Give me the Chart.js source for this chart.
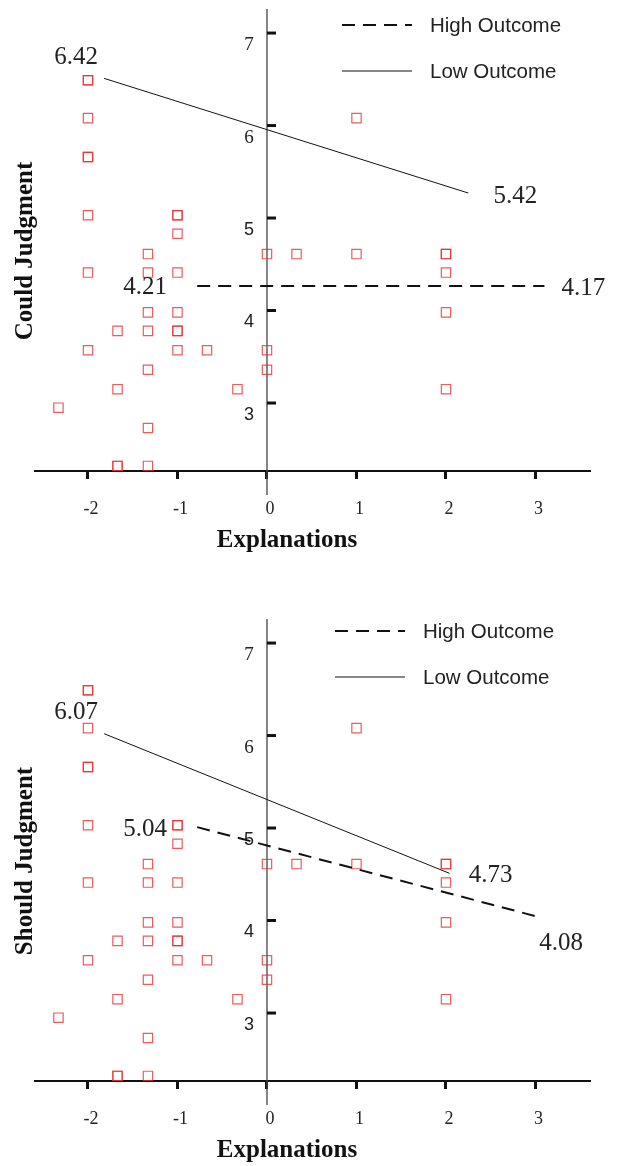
<!DOCTYPE html>
<html>
<head>
<meta charset="utf-8">
<script src="https://cdn.jsdelivr.net/npm/chart.js@4"></script>
<style>
  body { margin: 0; background: #fff; }
  #wrap { position: relative; width: 618px; height: 1166px; }
  #c1 { position: absolute; left: 0; top: 0; }
  #c2 { position: absolute; left: 0; top: 610px; }
</style>
</head>
<body>
<div id="wrap">
  <canvas id="c1" width="618" height="610"></canvas>
  <canvas id="c2" width="618" height="556"></canvas>
</div>
<script>
// scatter of participants (same points shown in both panels)
const explanations = [-2.33, -2, -2, -2, -2, -2, -2, -2, -2,
  -1.67, -1.67, -1.67, -1.67,
  -1.33, -1.33, -1.33, -1.33, -1.33, -1.33, -1.33,
  -1, -1, -1, -1, -1, -1, -1, -1,
  -0.67, -0.33, 0, 0, 0, 0.33, 1, 1, 2, 2, 2, 2, 2];
const judgments = [2.95, 6.49, 6.49, 6.08, 5.66, 5.66, 5.03, 4.41, 3.57,
  3.78, 3.15, 2.32, 2.32,
  4.61, 4.41, 3.98, 3.78, 3.36, 2.73, 2.32,
  5.03, 5.03, 4.83, 4.41, 3.98, 3.78, 3.78, 3.57,
  3.57, 3.15, 4.61, 3.57, 3.36, 4.61, 6.08, 4.61, 4.61, 4.61, 4.41, 3.98, 3.15];

// regression lines (x from, x to / y from, y to)
const couldLowX = [-1.82, 2.25];
const couldLowY = [6.51, 5.27];
const couldHighX = [-0.78, 3.10];
const couldHighY = [4.265, 4.265];
const shouldLowX = [-1.82, 2.04];
const shouldLowY = [6.02, 4.51];
const shouldHighX = [-0.78, 3.03];
const shouldHighY = [5.01, 4.04];

const couldLowLabels = ['6.42', '5.42'];
const couldHighLabels = ['4.21', '4.17'];
const shouldLowLabels = ['6.07', '4.73'];
const shouldHighLabels = ['5.04', '4.08'];

const xTicks = [-2, -1, 0, 1, 2, 3];
const yTicks = [3, 4, 5, 6, 7];
const seriesNames = ['High Outcome', 'Low Outcome'];
const xTitle = 'Explanations';

const X_MIN = -2.592, X_MAX = 3.609;
const Y_MIN = 2.265, Y_MAX = 7.26;
const SERIF = '"Liberation Serif", "Times New Roman", serif';
const SANS = '"Liberation Sans", Arial, sans-serif';

function toPoints(xs, ys) {
    return xs.map((v, i) => ({x: v, y: ys[i]}));
}

const decor = {
    id: 'decor',
    beforeDatasetsDraw(chart) {
        const {ctx, chartArea} = chart;
        const xs = chart.scales.x, ys = chart.scales.y;
        const x0 = xs.getPixelForValue(0);
        ctx.save();
        ctx.strokeStyle = '#444';
        ctx.lineWidth = 1.3;
        ctx.beginPath();
        ctx.moveTo(x0, chartArea.top);
        ctx.lineTo(x0, chartArea.bottom + 24);
        ctx.stroke();
        yTicks.forEach(v => {
            const py = ys.getPixelForValue(v);
            ctx.strokeStyle = '#111';
            ctx.lineWidth = 3;
            ctx.beginPath();
            ctx.moveTo(x0, py);
            ctx.lineTo(x0 + 9, py);
            ctx.stroke();
            // the original mixes two fonts on this axis
            ctx.font = v >= 6 ? '19px ' + SERIF : '18px ' + SANS;
            ctx.fillStyle = '#222';
            ctx.textAlign = 'center';
            ctx.textBaseline = 'middle';
            ctx.fillText(String(v), x0 - 18, py + 12);
        });
        ctx.restore();
    },
    afterDraw(chart) {
        const {ctx, chartArea} = chart;
        const xs = chart.scales.x, ys = chart.scales.y;
        const opt = chart.options.plugins.decor;
        ctx.save();
        // axis titles
        ctx.font = 'bold 25px ' + SERIF;
        ctx.fillStyle = '#111';
        ctx.textAlign = 'center';
        ctx.textBaseline = 'alphabetic';
        ctx.fillText(xTitle, 287, chartArea.bottom + 76);
        ctx.save();
        ctx.translate(32, (chartArea.top + chartArea.bottom) / 2 + 11);
        ctx.rotate(-Math.PI / 2);
        ctx.fillText(opt.yTitle, 0, 0);
        ctx.restore();
        // end-point values
        ctx.font = '25px ' + SERIF;
        ctx.fillStyle = '#222';
        ctx.textAlign = 'center';
        ctx.textBaseline = 'middle';
        chart.data.datasets.forEach(ds => {
            if (!ds.endLabels) return;
            ds.data.forEach((p, i) => {
                const px = xs.getPixelForValue(p.x) + ds.labelOffsets[i][0];
                const py = ys.getPixelForValue(p.y) + ds.labelOffsets[i][1];
                ctx.fillText(ds.endLabels[i], px, py);
            });
        });
        // legend
        ctx.font = '20.5px ' + SANS;
        ctx.textAlign = 'left';
        const lines = chart.data.datasets.filter(ds => ds.endLabels);
        lines.forEach((ds, i) => {
            const ly = opt.y + i * 46;
            ctx.strokeStyle = '#111';
            ctx.lineWidth = ds.borderWidth;
            ctx.setLineDash(ds.borderDash || []);
            ctx.beginPath();
            ctx.moveTo(opt.x, ly);
            ctx.lineTo(opt.x + 70, ly);
            ctx.stroke();
            ctx.setLineDash([]);
            ctx.fillStyle = '#222';
            ctx.fillText(ds.label, opt.x + 88, ly + 1);
        });
        ctx.restore();
    }
};

function makeChart(id, yTitle, lowX, lowY, highX, highY, lowLabels, highLabels, opts) {
    return new Chart(document.getElementById(id), {
        type: 'scatter',
        data: {
            datasets: [
                {
                    type: 'line',
                    label: seriesNames[0],
                    data: toPoints(highX, highY),
                    borderColor: '#111',
                    borderWidth: 2,
                    borderDash: [13, 8],
                    pointRadius: 0,
                    fill: false,
                    endLabels: highLabels,
                    labelOffsets: opts.highOffsets
                },
                {
                    type: 'line',
                    label: seriesNames[1],
                    data: toPoints(lowX, lowY),
                    borderColor: '#111',
                    borderWidth: 1,
                    pointRadius: 0,
                    fill: false,
                    endLabels: lowLabels,
                    labelOffsets: opts.lowOffsets
                },
                {
                    label: 'points',
                    data: toPoints(explanations, judgments),
                    pointStyle: 'rect',
                    pointRadius: 6.6,
                    borderWidth: 1.2,
                    borderColor: 'rgba(232, 45, 45, 0.78)',
                    backgroundColor: 'rgba(255, 255, 255, 0)'
                }
            ]
        },
        options: {
            responsive: false,
            animation: false,
            layout: { padding: { top: 9, right: 28, bottom: opts.bottomPad, left: 35 } },
            plugins: {
                legend: { display: false },
                tooltip: { enabled: false },
                decor: { x: opts.legendX, y: opts.legendY, yTitle: yTitle }
            },
            scales: {
                x: {
                    type: 'linear',
                    position: 'bottom',
                    min: X_MIN,
                    max: X_MAX,
                    afterBuildTicks: s => { s.ticks = xTicks.map(v => ({value: v})); },
                    afterFit: s => { s.height = 85; },
                    grid: { drawOnChartArea: false, tickLength: 8, tickWidth: 3, tickColor: '#111' },
                    border: { display: true, color: '#111', width: 2 },
                    ticks: {
                        color: '#222',
                        padding: 19,
                        labelOffset: 3,
                        maxRotation: 0,
                        font: { family: SERIF, size: 18 },
                        callback: v => String(v)
                    }
                },
                y: {
                    type: 'linear',
                    display: false,
                    min: Y_MIN,
                    max: Y_MAX
                }
            }
        },
        plugins: [decor]
    });
}

makeChart('c1', 'Could Judgment', couldLowX, couldLowY, couldHighX, couldHighY,
    couldLowLabels, couldHighLabels, {
        bottomPad: 54, legendX: 342, legendY: 25,
        lowOffsets: [[-28, -21], [47, 3]],
        highOffsets: [[-52, 1], [39, 2]]
    });
makeChart('c2', 'Should Judgment', shouldLowX, shouldLowY, shouldHighX, shouldHighY,
    shouldLowLabels, shouldHighLabels, {
        bottomPad: 0, legendX: 335, legendY: 21,
        lowOffsets: [[-28, -21], [41, 2]],
        highOffsets: [[-52, 2], [23, 27]]
    });
</script>
</body>
</html>
